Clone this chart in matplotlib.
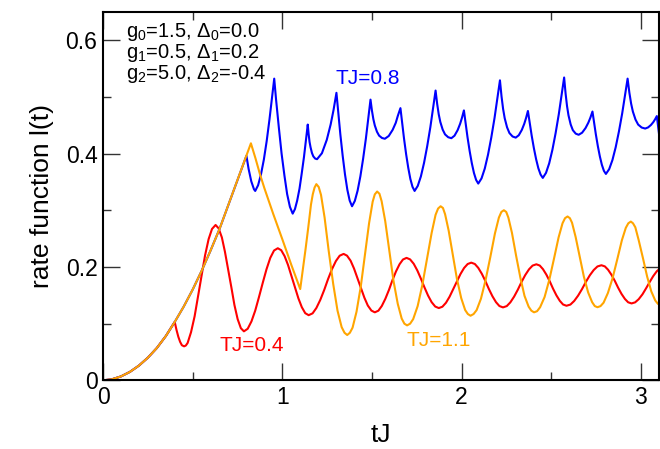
import matplotlib
matplotlib.use("Agg")
import matplotlib.pyplot as plt
import numpy as np
from matplotlib.ticker import MultipleLocator, FixedLocator

plt.rcParams['font.family'] = ['Liberation Sans', 'DejaVu Sans']
plt.rcParams['mathtext.fontset'] = 'custom'
plt.rcParams['mathtext.rm'] = 'Liberation Sans'
plt.rcParams['mathtext.it'] = 'Liberation Sans:italic'
plt.rcParams['mathtext.default'] = 'regular'

# shared early-time curve (identical for all TJ before the switch)
t_shared = [0.0, 0.05, 0.1, 0.15, 0.2, 0.25, 0.3, 0.35, 0.4, 0.45, 0.5, 0.55,
            0.6, 0.65, 0.7, 0.75, 0.8]
l_shared = [0.0, 0.002, 0.007, 0.015, 0.026, 0.040, 0.057, 0.078, 0.103, 0.130,
            0.160, 0.193, 0.229, 0.267, 0.310, 0.353, 0.396]

# TJ = 0.4 (red), after t = 0.4
red_t = [0.41, 0.42, 0.43, 0.44, 0.4525, 0.462, 0.472, 0.491, 0.511, 0.530, 0.550,
         0.569, 0.589, 0.608, 0.628,
         0.645, 0.663, 0.680, 0.698, 0.716, 0.733, 0.751, 0.769, 0.786,
         0.807, 0.828, 0.849, 0.870, 0.891, 0.912, 0.933, 0.954, 0.975,
         0.994, 1.013, 1.032, 1.051, 1.071, 1.090, 1.109, 1.128, 1.147,
         1.169, 1.190, 1.212, 1.234, 1.255, 1.277, 1.299, 1.320, 1.342,
         1.361, 1.381, 1.400, 1.419, 1.439, 1.458, 1.477, 1.497, 1.516,
         1.536, 1.555, 1.575, 1.595, 1.614, 1.634, 1.654, 1.673, 1.693,
         1.713, 1.733, 1.753, 1.773, 1.793, 1.813, 1.833, 1.853, 1.873,
         1.893, 1.913, 1.933, 1.953, 1.974, 1.994, 2.014, 2.034, 2.054,
         2.074, 2.093, 2.113, 2.133, 2.152, 2.172, 2.192, 2.211, 2.231,
         2.252, 2.272, 2.293, 2.314, 2.334, 2.355, 2.376, 2.396, 2.417,
         2.436, 2.454, 2.473, 2.492, 2.510, 2.529, 2.548, 2.566, 2.585,
         2.607, 2.628, 2.650, 2.672, 2.693, 2.715, 2.737, 2.758, 2.780,
         2.799, 2.817, 2.836, 2.855, 2.873, 2.892, 2.911, 2.929, 2.948,
         2.968, 2.988, 3.009, 3.029, 3.049, 3.069, 3.089, 3.110]
red_l = [0.089, 0.077, 0.068, 0.062, 0.060, 0.0615, 0.066, 0.085, 0.113, 0.148, 0.185,
         0.220, 0.249, 0.267, 0.274,
         0.268, 0.252, 0.227, 0.196, 0.164, 0.133, 0.108, 0.092, 0.0865,
         0.091, 0.104, 0.123, 0.147, 0.172, 0.196, 0.216, 0.229, 0.233,
         0.2295, 0.219, 0.2035, 0.184, 0.164, 0.1445, 0.129, 0.1185, 0.115,
         0.1182, 0.1276, 0.142, 0.1596, 0.1784, 0.196, 0.2104, 0.2198, 0.223,
         0.2199, 0.211, 0.1973, 0.1805, 0.1625, 0.1457, 0.132, 0.1231, 0.120,
         0.1229, 0.1312, 0.144, 0.1596, 0.1764, 0.192, 0.2048, 0.2131, 0.216,
         0.2133, 0.2056, 0.1939, 0.1795, 0.164, 0.1496, 0.1379, 0.1302, 0.1275,
         0.1299, 0.1369, 0.1475, 0.1606, 0.1745, 0.1876, 0.1982, 0.2052, 0.2076,
         0.2052, 0.1984, 0.1879, 0.175, 0.1613, 0.1484, 0.1379, 0.1311, 0.1287,
         0.131, 0.1376, 0.1477, 0.1601, 0.1733, 0.1857, 0.1958, 0.2024, 0.2047,
         0.2025, 0.1961, 0.1864, 0.1745, 0.1618, 0.1499, 0.1402, 0.1338, 0.1316,
         0.1337, 0.140, 0.1495, 0.1611, 0.1735, 0.1852, 0.1946, 0.2009, 0.203,
         0.201, 0.1951, 0.1862, 0.1752, 0.1635, 0.1525, 0.1436, 0.1377, 0.1357,
         0.1376, 0.1432, 0.1518, 0.1623, 0.1734, 0.1839, 0.1925, 0.1981]

# TJ = 1.1 (orange), after t = 0.8
orange_t = [0.825, 0.85, 0.875, 0.9, 0.95, 1.0, 1.05, 1.1,
            1.115, 1.13, 1.145, 1.16, 1.17, 1.18, 1.19,
            1.203, 1.216, 1.236, 1.259, 1.284, 1.308, 1.331, 1.347, 1.362,
            1.377, 1.392, 1.414, 1.438, 1.461, 1.484, 1.504, 1.516, 1.529,
            1.542, 1.554, 1.574, 1.597, 1.620, 1.644, 1.666, 1.681, 1.696,
            1.713, 1.730, 1.755, 1.781, 1.807, 1.833, 1.855, 1.869, 1.883,
            1.896, 1.908, 1.928, 1.951, 1.974, 1.998, 2.020, 2.035, 2.050,
            2.067, 2.084, 2.108, 2.134, 2.160, 2.186, 2.208, 2.222, 2.236,
            2.249, 2.261, 2.281, 2.304, 2.328, 2.351, 2.374, 2.389, 2.404,
            2.421, 2.438, 2.463, 2.489, 2.515, 2.541, 2.563, 2.577, 2.591,
            2.604, 2.616, 2.636, 2.659, 2.682, 2.706, 2.728, 2.743, 2.758,
            2.775, 2.792, 2.816, 2.842, 2.868, 2.894, 2.916, 2.930, 2.944,
            2.956, 2.969, 2.988, 3.012, 3.035, 3.058, 3.080, 3.095, 3.110]
orange_l = [0.418, 0.392, 0.364, 0.339, 0.293, 0.249, 0.204, 0.161,
            0.196, 0.232, 0.270, 0.310, 0.328, 0.340, 0.346,
            0.341, 0.327, 0.287, 0.228, 0.170, 0.123, 0.094, 0.084, 0.080,
            0.084, 0.093, 0.121, 0.166, 0.221, 0.277, 0.315, 0.328, 0.333,
            0.329, 0.316, 0.281, 0.228, 0.176, 0.135, 0.109, 0.100, 0.097,
            0.100, 0.108, 0.131, 0.168, 0.214, 0.260, 0.292, 0.303, 0.307,
            0.304, 0.293, 0.264, 0.221, 0.179, 0.145, 0.124, 0.117, 0.114,
            0.117, 0.124, 0.144, 0.177, 0.217, 0.259, 0.287, 0.297, 0.300,
            0.297, 0.287, 0.260, 0.220, 0.181, 0.149, 0.130, 0.123, 0.120,
            0.122, 0.129, 0.147, 0.177, 0.214, 0.252, 0.277, 0.286, 0.289,
            0.286, 0.278, 0.253, 0.218, 0.183, 0.155, 0.138, 0.131, 0.129,
            0.131, 0.137, 0.154, 0.180, 0.213, 0.247, 0.269, 0.277, 0.280,
            0.277, 0.270, 0.247, 0.215, 0.183, 0.157, 0.141, 0.135, 0.133]

# TJ = 0.8 (blue), after t = 0.8
blue_t = [0.812, 0.827, 0.842, 0.849,
          0.865, 0.881, 0.897, 0.913, 0.9285, 0.944, 0.955,
          0.965, 0.981, 0.996, 1.012, 1.027, 1.0425, 1.058,
          1.0706, 1.083, 1.096, 1.108, 1.121, 1.1336, 1.142,
          1.147, 1.152, 1.1576, 1.1654, 1.173, 1.1836, 1.194,
          1.221, 1.248, 1.2696, 1.2858, 1.302,
          1.3107, 1.3237, 1.3368, 1.3498, 1.3629, 1.3759, 1.389,
          1.4045, 1.4199, 1.4354, 1.4508, 1.4663, 1.4817, 1.492,
          1.500, 1.508, 1.516, 1.528, 1.540, 1.556, 1.572,
          1.5938, 1.6155, 1.6329, 1.644, 1.659,
          1.6669, 1.6788, 1.6906, 1.7025, 1.7143, 1.7262, 1.738,
          1.7556, 1.7731, 1.7907, 1.8082, 1.8258, 1.8433, 1.855,
          1.8638, 1.8726, 1.8814, 1.8946, 1.9078, 1.9254, 1.943,
          1.9605, 1.978, 1.992, 2.0025, 2.013,
          2.021, 2.033, 2.045, 2.057, 2.069, 2.081, 2.093,
          2.1112, 2.1293, 2.1475, 2.1656, 2.1838, 2.2019, 2.214,
          2.2228, 2.2316, 2.2404, 2.2536, 2.2668, 2.2844, 2.302,
          2.319, 2.336, 2.3496, 2.3598, 2.370,
          2.3783, 2.3908, 2.4032, 2.4157, 2.4281, 2.4406, 2.453,
          2.4709, 2.4887, 2.5066, 2.5244, 2.5423, 2.5601, 2.572,
          2.5801, 2.5882, 2.5963, 2.6085, 2.6206, 2.6368, 2.653,
          2.6723, 2.6915, 2.7069, 2.7185, 2.730,
          2.7375, 2.7488, 2.760, 2.7713, 2.7825, 2.7938, 2.805,
          2.8232, 2.8413, 2.8595, 2.8776, 2.8958, 2.9139, 2.926,
          2.9358, 2.9456, 2.9554, 2.9701, 2.9848, 3.0044, 3.024,
          3.0403, 3.0565, 3.0695, 3.0793, 3.089,
          3.099, 3.110]
blue_l = [0.373, 0.351, 0.337, 0.334,
          0.344, 0.363, 0.389, 0.422, 0.460, 0.502, 0.532,
          0.496, 0.445, 0.400, 0.361, 0.3285, 0.306, 0.294,
          0.302, 0.317, 0.338, 0.364, 0.394, 0.4275, 0.451,
          0.434, 0.4205, 0.411, 0.401, 0.395, 0.391, 0.390,
          0.4005, 0.424, 0.451, 0.4766, 0.507,
          0.477, 0.434, 0.396, 0.363, 0.336, 0.317, 0.307,
          0.3164, 0.3343, 0.3596, 0.3907, 0.4264, 0.4668, 0.495,
          0.4757, 0.4605, 0.4495, 0.4384, 0.4315, 0.4274, 0.426,
          0.4309, 0.4417, 0.4541, 0.466, 0.480,
          0.4581, 0.4267, 0.399, 0.3749, 0.3552, 0.3413, 0.334,
          0.3429, 0.3597, 0.3836, 0.4128, 0.4464, 0.4845, 0.511,
          0.4875, 0.469, 0.4556, 0.4421, 0.4337, 0.4287, 0.427,
          0.4314, 0.4412, 0.4525, 0.4633, 0.476,
          0.4567, 0.4289, 0.4044, 0.3831, 0.3657, 0.3535, 0.347,
          0.3561, 0.3734, 0.398, 0.428, 0.4626, 0.5017, 0.529,
          0.5007, 0.4785, 0.4623, 0.4462, 0.4361, 0.430, 0.428,
          0.4322, 0.4416, 0.4524, 0.4628, 0.475,
          0.4573, 0.4319, 0.4095, 0.390, 0.3741, 0.3629, 0.357,
          0.3659, 0.3827, 0.4066, 0.4358, 0.4694, 0.5075, 0.534,
          0.5057, 0.4835, 0.4673, 0.4512, 0.4411, 0.435, 0.433,
          0.4367, 0.4449, 0.4543, 0.4633, 0.474,
          0.4575, 0.4339, 0.413, 0.3948, 0.380, 0.3695, 0.364,
          0.3724, 0.3884, 0.411, 0.4388, 0.4707, 0.5068, 0.532,
          0.5074, 0.488, 0.4739, 0.4598, 0.451, 0.4458, 0.444,
          0.446, 0.4504, 0.4554, 0.4603, 0.466,
          0.440, 0.412]

switch_red = 0.4
switch_late = 0.8

annot_lines = ['g$_0$=1.5, Δ$_0$=0.0', 'g$_1$=0.5, Δ$_1$=0.2', 'g$_2$=5.0, Δ$_2$=-0.4']
curve_labels = ['TJ=0.4', 'TJ=0.8', 'TJ=1.1']
x_ticks = [0, 1, 2, 3]
y_ticks = [0, 0.2, 0.4, 0.6]
y_tick_labels = ['0', '0.2', '0.4', '0.6']


def build(t_tail, l_tail, t_switch):
    ts = np.array(t_shared)
    ls = np.array(l_shared)
    m = ts <= t_switch + 1e-9
    return (np.concatenate([ts[m], np.array(t_tail)]),
            np.concatenate([ls[m], np.array(l_tail)]))


fig = plt.figure(figsize=(6.6, 4.49), dpi=100)
W, H = 660.0, 449.0
x0, x1, yb, yt = 103.0, 658.8, 380.4, 11.7
ax = fig.add_axes([x0 / W, (H - yb) / H, (x1 - x0) / W, (yb - yt) / H])

rt, rl = build(red_t, red_l, switch_red)
bt, bl = build(blue_t, blue_l, switch_late)
ot, ol = build(orange_t, orange_l, switch_late)

lw = 1.5
ax.plot(rt, rl, color='#ff0000', lw=lw, solid_joinstyle='round')
ax.plot(bt, bl, color='#0000ff', lw=lw, solid_joinstyle='round')
ax.plot(ot, ol, color='#ffa500', lw=lw, solid_joinstyle='round')

ax.set_xlim(0, 3.1)
ax.set_ylim(0, 0.65)
ax.xaxis.set_major_locator(FixedLocator(x_ticks))
ax.xaxis.set_minor_locator(MultipleLocator(0.5))
ax.yaxis.set_major_locator(FixedLocator(y_ticks))
ax.set_yticklabels(y_tick_labels)
ax.yaxis.set_minor_locator(MultipleLocator(0.1))
ax.tick_params(which='both', direction='in', top=True, right=True, labelsize=16.5,
               width=1.0, color='#333333')
ax.tick_params(which='major', length=12, pad=4)
ax.tick_params(which='minor', length=6)
for s in ax.spines.values():
    s.set_linewidth(1.5)

ax.set_xlabel('tJ', fontsize=19, labelpad=10)
ax.set_ylabel('rate function l(t)', fontsize=19, labelpad=8)

ax.text(0.128, 0.634, '\n'.join(annot_lines), fontsize=14.5, ha='left', va='top',
        linespacing=0.95)

ax.text(0.83, 0.061, curve_labels[0], color='#ff0000', fontsize=15, ha='center', va='center')
ax.text(1.478, 0.532, curve_labels[1], color='#0000ff', fontsize=15, ha='center', va='center')
ax.text(1.87, 0.070, curve_labels[2], color='#ffa500', fontsize=15, ha='center', va='center')

fig.savefig('out.png', dpi=100)
